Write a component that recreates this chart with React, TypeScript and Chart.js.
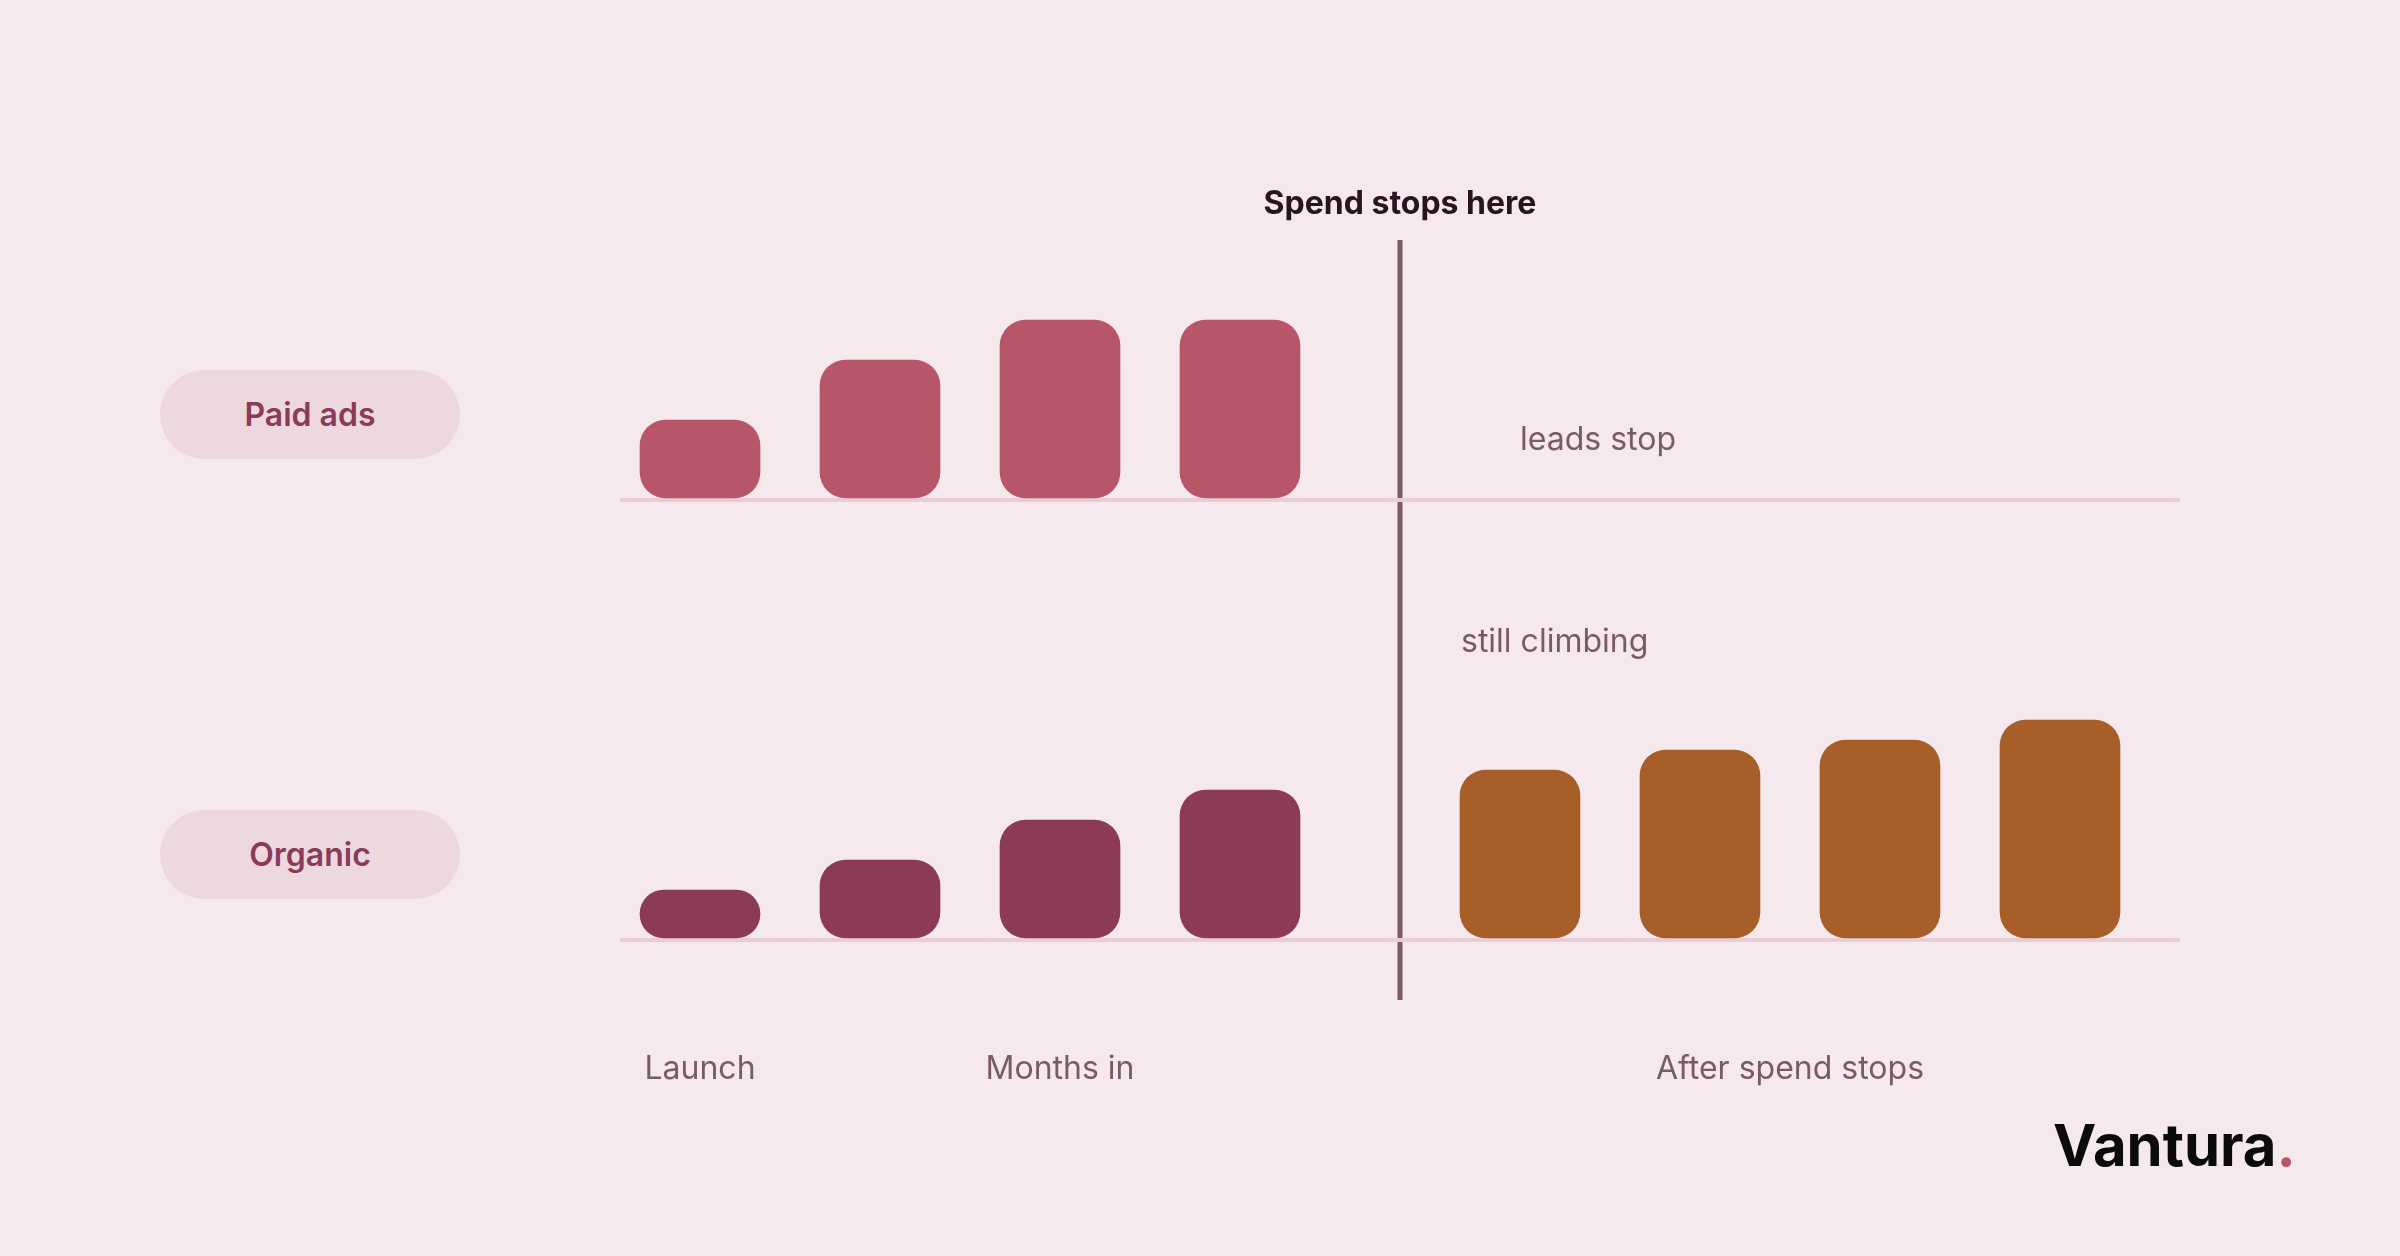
import React, { useEffect, useRef } from 'react';
import { Chart, registerables } from 'chart.js';

Chart.register(...registerables);

// ---- data ----
// x-axis units: periods since launch
const barPositions = [4, 13, 22, 31, 45, 54, 63, 72];
const paidLeads = [4, 7, 9, 9];
const organicBeforeStop = [2.5, 4, 6, 7.5];
const organicAfterStop = [8.5, 9.5, 10, 11];
const spendStopPosition = 39;
const tickLabels = ['Launch', 'Months in', 'After spend stops'];
const tickPositions = [4, 22, 58.5];
const rowLabels = ['Paid ads', 'Organic'];
const annotations = ['Spend stops here', 'leads stop', 'still climbing'];

const BG = '#f5e9ed';
const BASELINE = '#e8cdd6';
const DIVIDER = '#7a5a64';
const LABEL = '#7b5a68';

export default function App() {
  const ref = useRef<HTMLCanvasElement>(null);

  useEffect(() => {
    document.body.style.margin = '0';
    const canvas = ref.current;
    if (!canvas) return;

    const dividerPlugin = {
      id: 'spendDivider',
      beforeDraw(chart: any) {
        const { ctx, chartArea, scales } = chart;
        const x = scales.x.getPixelForValue(spendStopPosition);
        ctx.save();
        ctx.strokeStyle = DIVIDER;
        ctx.lineWidth = 5;
        ctx.beginPath();
        ctx.moveTo(x, chartArea.top);
        ctx.lineTo(x, chartArea.bottom + 60);
        ctx.stroke();
        ctx.restore();
      },
    };

    const panelAxis = (min: number, max: number) => ({
      type: 'linear' as const,
      position: 'left' as const,
      min,
      max,
      afterBuildTicks: (s: any) => {
        s.ticks = [{ value: 0 }];
      },
      afterFit: (s: any) => {
        s.width = 0;
      },
      ticks: { display: false },
      border: { display: false },
      grid: { color: BASELINE, lineWidth: 4, drawTicks: false },
    });

    const barStyle = {
      barThickness: 120,
      borderRadius: 26,
      borderSkipped: false,
      grouped: false,
    };

    const chart = new Chart(canvas, {
      type: 'bar',
      data: {
        datasets: [
          {
            label: rowLabels[0],
            data: paidLeads.map((v, i) => ({ x: barPositions[i], y: v })),
            yAxisID: 'yPaid',
            backgroundColor: '#b85669',
            ...barStyle,
          } as any,
          {
            label: rowLabels[1],
            data: organicBeforeStop.map((v, i) => ({ x: barPositions[i], y: v })),
            yAxisID: 'yOrg',
            backgroundColor: '#8c3a57',
            ...barStyle,
          } as any,
          {
            label: rowLabels[1] + ' (after spend stops)',
            data: organicAfterStop.map((v, i) => ({ x: barPositions[i + 4], y: v })),
            yAxisID: 'yOrg',
            backgroundColor: '#a85e28',
            ...barStyle,
          } as any,
        ],
      },
      options: {
        animation: false,
        responsive: true,
        maintainAspectRatio: false,
        devicePixelRatio: 1,
        events: [],
        layout: { padding: { left: 620, right: 220, top: 240, bottom: 116 } },
        plugins: {
          legend: { display: false },
          tooltip: { enabled: false },
        },
        scales: {
          x: {
            type: 'linear',
            position: 'bottom',
            offset: false,
            min: 0,
            max: 78,
            afterBuildTicks: (s: any) => {
              s.ticks = tickPositions.map((v) => ({ value: v }));
            },
            afterFit: (s: any) => {
              s.height = 200;
            },
            grid: { display: false, drawTicks: false, offset: false },
            border: { display: false },
            ticks: {
              autoSkip: false,
              maxRotation: 0,
              padding: 110,
              color: LABEL,
              font: { family: 'Inter', size: 32 },
              callback: (_v: any, i: number) => tickLabels[i],
            },
          },
          yPaid: panelAxis(-22, 13),
          yOrg: panelAxis(0, 35),
        } as any,
      },
      plugins: [dividerPlugin],
    });

    return () => chart.destroy();
  }, []);

  const pill = (top: number): React.CSSProperties => ({
    position: 'absolute',
    left: 160,
    top,
    width: 300,
    height: 89,
    borderRadius: 45,
    background: '#eed8e0',
    display: 'flex',
    alignItems: 'center',
    justifyContent: 'center',
    color: '#8b3a58',
    fontSize: 32,
    fontWeight: 600,
  });

  const note = (left: number, top: number): React.CSSProperties => ({
    position: 'absolute',
    left,
    top,
    fontSize: 32,
    lineHeight: '32px',
    color: LABEL,
    whiteSpace: 'nowrap',
  });

  return (
    <div
      style={{
        position: 'fixed',
        left: 0,
        top: 0,
        width: 2400,
        height: 1256,
        background: BG,
        fontFamily: 'Inter, sans-serif',
        overflow: 'hidden',
      }}
    >
      <canvas ref={ref} style={{ position: 'absolute', left: 0, top: 0, width: 2400, height: 1256 }} />
      <div style={pill(370)}>{rowLabels[0]}</div>
      <div style={pill(810)}>{rowLabels[1]}</div>
      <div
        style={{
          position: 'absolute',
          left: 1100,
          width: 600,
          top: 187,
          textAlign: 'center',
          fontSize: 32,
          lineHeight: '32px',
          fontWeight: 700,
          color: '#2a1420',
        }}
      >
        {annotations[0]}
      </div>
      <div style={note(1520, 423)}>{annotations[1]}</div>
      <div style={note(1461, 625)}>{annotations[2]}</div>
      <div
        style={{
          position: 'absolute',
          left: 2053,
          top: 1116,
          fontSize: 58,
          lineHeight: '58px',
          fontWeight: 700,
          color: '#0b0b0b',
          whiteSpace: 'nowrap',
        }}
      >
        Vantura<span style={{ color: '#b85669' }}>.</span>
      </div>
    </div>
  );
}
